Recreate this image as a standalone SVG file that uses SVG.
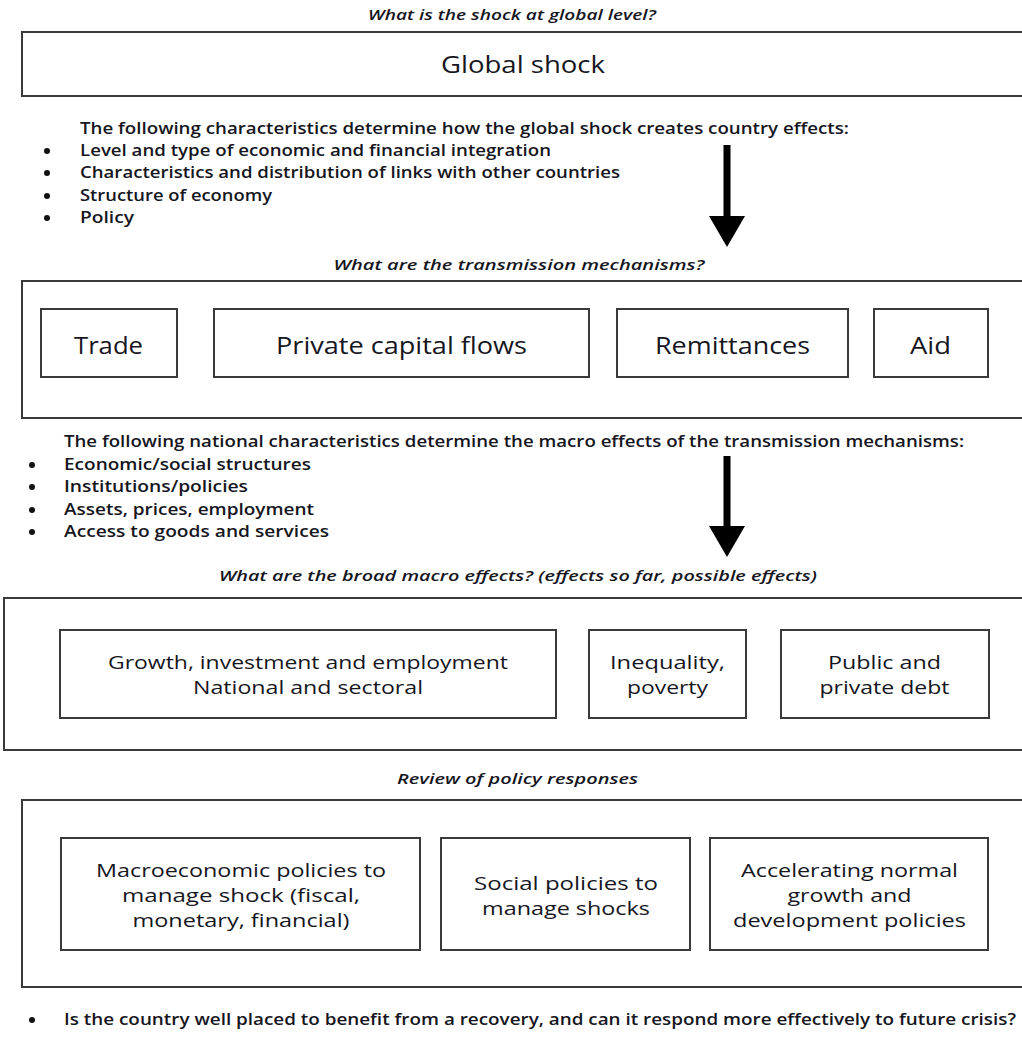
<svg xmlns="http://www.w3.org/2000/svg" width="1022" height="1038" viewBox="0 0 1022 1038">
<style>
text{font-family:"Open Sans","Noto Sans","Liberation Sans",sans-serif;fill:#16161e}
.q{font-style:italic;font-weight:600;font-size:15px;text-anchor:middle}
.t{font-size:15.5px;font-weight:600}
.big{font-size:24px;font-weight:500;text-anchor:middle}
.m{font-size:23px;font-weight:500;text-anchor:middle}
.s{font-size:19px;font-weight:500;text-anchor:middle}
.frame{fill:#fff;stroke:#3a3a3a;stroke-width:2}
.box{fill:#fff;stroke:#3a3a3a;stroke-width:2}
.dot{fill:#111}
</style>
<rect width="1022" height="1038" fill="#fff"/>

<text class="q" x="512" y="20" textLength="288" lengthAdjust="spacingAndGlyphs">What is the shock at global level?</text>
<g id="global-shock">
<rect class="frame" x="22" y="32" width="1010" height="64"/>
<text class="big" x="523" y="73" textLength="164" lengthAdjust="spacingAndGlyphs">Global shock</text>
</g>

<g id="characteristics-1">
<text class="t" x="80" y="134" textLength="769" lengthAdjust="spacingAndGlyphs">The following characteristics determine how the global shock creates country effects:</text>
<circle class="dot" cx="47" cy="151" r="3"/><text class="t" x="80" y="156" textLength="471" lengthAdjust="spacingAndGlyphs">Level and type of economic and financial integration</text>
<circle class="dot" cx="47" cy="173" r="3"/><text class="t" x="80" y="178" textLength="540" lengthAdjust="spacingAndGlyphs">Characteristics and distribution of links with other countries</text>
<circle class="dot" cx="47" cy="196" r="3"/><text class="t" x="80" y="201" textLength="192" lengthAdjust="spacingAndGlyphs">Structure of economy</text>
<circle class="dot" cx="47" cy="218" r="3"/><text class="t" x="80" y="223" textLength="54" lengthAdjust="spacingAndGlyphs">Policy</text>
</g>

<text class="q" x="519" y="270" textLength="371" lengthAdjust="spacingAndGlyphs">What are the transmission mechanisms?</text>
<g id="transmission">
<rect class="frame" x="22" y="281" width="1010" height="137"/>
</g>
<g id="trade"><rect class="box" x="41" y="309" width="136" height="68"/><text class="m" x="108.5" y="354" textLength="69" lengthAdjust="spacingAndGlyphs">Trade</text></g>
<g id="private-capital"><rect class="box" x="214" y="309" width="375" height="68"/><text class="m" x="401.5" y="354" textLength="251" lengthAdjust="spacingAndGlyphs">Private capital flows</text></g>
<g id="remittances"><rect class="box" x="617" y="309" width="231" height="68"/><text class="m" x="732.5" y="354" textLength="155" lengthAdjust="spacingAndGlyphs">Remittances</text></g>
<g id="aid"><rect class="box" x="874" y="309" width="114" height="68"/><text class="m" x="930.5" y="354" textLength="41" lengthAdjust="spacingAndGlyphs">Aid</text></g>

<g id="characteristics-2">
<text class="t" x="64" y="447" textLength="900" lengthAdjust="spacingAndGlyphs">The following national characteristics determine the macro effects of the transmission mechanisms:</text>
<circle class="dot" cx="32" cy="465" r="3"/><text class="t" x="64" y="470" textLength="247" lengthAdjust="spacingAndGlyphs">Economic/social structures</text>
<circle class="dot" cx="32" cy="487" r="3"/><text class="t" x="64" y="492" textLength="184" lengthAdjust="spacingAndGlyphs">Institutions/policies</text>
<circle class="dot" cx="32" cy="510" r="3"/><text class="t" x="64" y="515" textLength="250" lengthAdjust="spacingAndGlyphs">Assets, prices, employment</text>
<circle class="dot" cx="32" cy="532" r="3"/><text class="t" x="64" y="537" textLength="265" lengthAdjust="spacingAndGlyphs">Access to goods and services</text>
</g>

<text class="q" x="518" y="581" textLength="598" lengthAdjust="spacingAndGlyphs">What are the broad macro effects? (effects so far, possible effects)</text>
<g id="macro-effects"><rect class="frame" x="4" y="598" width="1028" height="152"/></g>
<g id="growth"><rect class="box" x="60" y="630" width="496" height="88"/><text class="s" x="308" y="669" textLength="400" lengthAdjust="spacingAndGlyphs">Growth, investment and employment</text><text class="s" x="308" y="694" textLength="230" lengthAdjust="spacingAndGlyphs">National and sectoral</text></g>
<g id="inequality"><rect class="box" x="589" y="630" width="157" height="88"/><text class="s" x="667.5" y="669" textLength="115" lengthAdjust="spacingAndGlyphs">Inequality,</text><text class="s" x="667.5" y="694" textLength="81" lengthAdjust="spacingAndGlyphs">poverty</text></g>
<g id="debt"><rect class="box" x="781" y="630" width="208" height="88"/><text class="s" x="884.5" y="669" textLength="113" lengthAdjust="spacingAndGlyphs">Public and</text><text class="s" x="884.5" y="694" textLength="130" lengthAdjust="spacingAndGlyphs">private debt</text></g>

<text class="q" x="517.5" y="784" textLength="241" lengthAdjust="spacingAndGlyphs">Review of policy responses</text>
<g id="policy-responses"><rect class="frame" x="22" y="800" width="1010" height="187"/></g>
<g id="macro-policies"><rect class="box" x="61" y="838" width="359" height="112"/><text class="s" x="241" y="877" textLength="290" lengthAdjust="spacingAndGlyphs">Macroeconomic policies to</text><text class="s" x="241" y="902" textLength="238" lengthAdjust="spacingAndGlyphs">manage shock (fiscal,</text><text class="s" x="241" y="927" textLength="217" lengthAdjust="spacingAndGlyphs">monetary, financial)</text></g>
<g id="social-policies"><rect class="box" x="441" y="838" width="249" height="112"/><text class="s" x="566" y="890" textLength="184" lengthAdjust="spacingAndGlyphs">Social policies to</text><text class="s" x="566" y="915" textLength="168" lengthAdjust="spacingAndGlyphs">manage shocks</text></g>
<g id="accelerating"><rect class="box" x="710" y="838" width="278" height="112"/><text class="s" x="849.5" y="877" textLength="217" lengthAdjust="spacingAndGlyphs">Accelerating normal</text><text class="s" x="849.5" y="902" textLength="124" lengthAdjust="spacingAndGlyphs">growth and</text><text class="s" x="849.5" y="927" textLength="233" lengthAdjust="spacingAndGlyphs">development policies</text></g>

<g id="question">
<circle class="dot" cx="32" cy="1020" r="3"/><text class="t" x="64" y="1025" textLength="952" lengthAdjust="spacingAndGlyphs">Is the country well placed to benefit from a recovery, and can it respond more effectively to future crisis?</text>
</g>

<g id="connectors">
<rect x="723.5" y="145" width="7" height="73" fill="#000"/>
<path d="M709,216 L745,216 L727,247 Z" fill="#000"/>
<rect x="723.5" y="456" width="7" height="72" fill="#000"/>
<path d="M709,526 L745,526 L727,557 Z" fill="#000"/>
</g>
</svg>
